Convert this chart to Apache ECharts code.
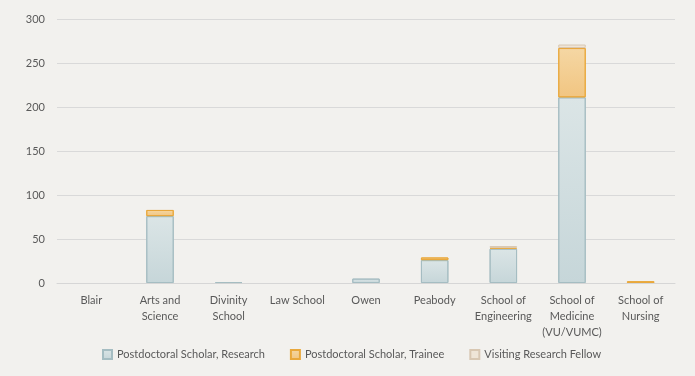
<!DOCTYPE html>
<html>
<head>
<meta charset="utf-8">
<script src="https://cdn.jsdelivr.net/npm/echarts@6/dist/echarts.min.js"></script>
<style>
  * { margin: 0; padding: 0; }
  body { background: #f2f1ee; }
  #main { width: 695px; height: 376px; }
</style>
</head>
<body>
<div id="main"></div>
<script>
// categories along x
var schools = ['Blair', 'Arts and\nScience', 'Divinity\nSchool', 'Law School', 'Owen', 'Peabody',
  'School of\nEngineering', 'School of\nMedicine\n(VU/VUMC)', 'School of\nNursing'];
// counts per appointment type
var research = [0, 76, 1, 0, 5, 26, 39, 211, 0];
var trainee  = [0, 7, 0, 0, 0, 3, 1, 56, 2];
var visiting = [0, 0, 0, 0, 0, 0, 2, 4, 0];
var yTicks = [0, 50, 100, 150, 200, 250, 300];

function grad(a, b) {
  return new echarts.graphic.LinearGradient(0, 0, 0, 1, [
    { offset: 0, color: a }, { offset: 1, color: b }
  ]);
}
// zero means no bar at all
function clean(arr) {
  return arr.map(function (v) { return v === 0 ? '-' : v; });
}

var chart = echarts.init(document.getElementById('main'));
var font = 'Lato, "Open Sans", sans-serif';
chart.setOption({
  backgroundColor: '#f2f1ee',
  textStyle: { fontFamily: font },
  grid: { left: 57, right: 20, top: 19, bottom: 93 },
  legend: {
    bottom: 11,
    left: 97,
    icon: 'rect',
    itemWidth: 9,
    itemHeight: 9,
    itemGap: 25,
    textStyle: { color: '#595959', fontSize: 11, fontFamily: font },
    data: ['Postdoctoral Scholar, Research', 'Postdoctoral Scholar, Trainee', 'Visiting Research Fellow']
  },
  xAxis: {
    type: 'category',
    data: schools,
    axisLine: { lineStyle: { color: '#d6d6d6' } },
    axisTick: { show: false },
    axisLabel: { color: '#595959', fontSize: 11, lineHeight: 16, margin: 9, interval: 0 }
  },
  yAxis: {
    type: 'value',
    min: yTicks[0],
    max: yTicks[yTicks.length - 1],
    interval: 50,
    axisLine: { show: false },
    axisTick: { show: false },
    splitLine: { lineStyle: { color: '#d9d9d9' } },
    axisLabel: { color: '#595959', fontSize: 11, margin: 12 }
  },
  series: [
    {
      name: 'Postdoctoral Scholar, Research',
      type: 'bar',
      stack: 'all',
      barWidth: '40%',
      data: clean(research),
      itemStyle: { color: grad('#dbe5e6', '#c6d6d9'), borderColor: '#a5bdc2', borderWidth: 1 }
    },
    {
      name: 'Postdoctoral Scholar, Trainee',
      type: 'bar',
      stack: 'all',
      data: clean(trainee),
      itemStyle: { color: grad('#f5d7a4', '#f1c581'), borderColor: '#e9a83c', borderWidth: 1 }
    },
    {
      name: 'Visiting Research Fellow',
      type: 'bar',
      stack: 'all',
      data: clean(visiting),
      itemStyle: { color: '#efe5d7', borderColor: '#d8c7b2', borderWidth: 1 }
    }
  ]
});
</script>
</body>
</html>
